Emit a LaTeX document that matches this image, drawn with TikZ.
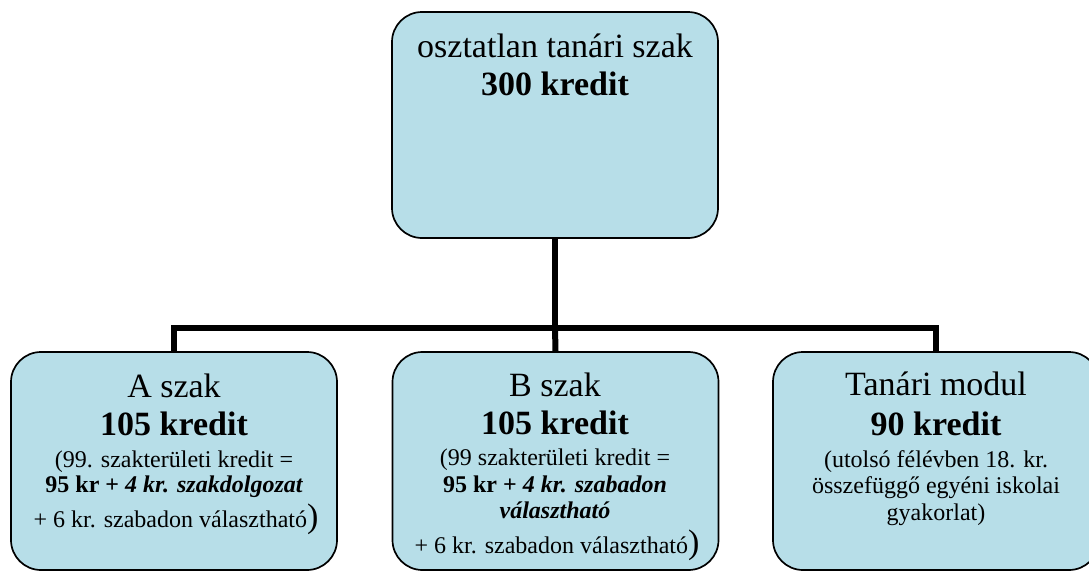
\documentclass[tikz,border=0pt]{standalone}
\usepackage{fontspec}
\setmainfont{Liberation Serif}
\definecolor{boxfill}{HTML}{B7DEE8}
\tikzset{
  boxnode/.style={draw=black, line width=1.7pt, fill=boxfill, rounded corners=30pt,
    minimum width=326pt, inner sep=0pt},
  conn/.style={draw=black, line width=6pt, line join=miter},
  big/.style={anchor=base, inner sep=0pt, font=\fontsize{34}{38}\selectfont},
  small/.style={anchor=base, inner sep=0pt, font=\fontsize{24}{27}\selectfont},
}
\begin{document}
\begin{tikzpicture}[x=1pt,y=-1pt]
\useasboundingbox (0,0) rectangle (1089,571);
% boxes
\node[boxnode, minimum height=226pt] (top) at (555,125) {};
\node[boxnode, minimum height=218pt] (A) at (174,461) {};
\node[boxnode, minimum height=218pt] (B) at (555.5,461) {};
\node[boxnode, minimum height=218pt] (C) at (936,461) {};
% connectors
\coordinate (bus) at (555,328);
\draw[conn] (top.south) -- (bus);
\draw[conn] (A.north) |- (bus) -| (C.north);
\draw[conn] (bus) -- (B.north);
% top text
\node[big] (t1) at (555,57) {osztatlan tanári szak};
\node[big] (t2) at (555,95) {\bfseries 300 kredit};
% A text
\node[big] (a1) at (174,397) {A szak};
\node[big] (a2) at (174,435) {\bfseries 105 kredit};
\node[small] (a3) at (174,467) {(99. szakterületi kredit =};
\node[small] (a4) at (174,492) {\bfseries 95 kr + \itshape 4 kr. szakdolgozat};
\node[small] (a5) at (176,527) {+ 6 kr. szabadon választható{\fontsize{34}{38}\selectfont)}};
% B text
\node[big] (b1) at (555,396) {B szak};
\node[big] (b2) at (555,434) {\bfseries 105 kredit};
\node[small] (b3) at (555,465) {(99 szakterületi kredit =};
\node[small] (b4) at (555,492) {\bfseries 95 kr + \itshape 4 kr. szabadon};
\node[small] (b5) at (555,518) {\bfseries\itshape választható};
\node[small] (b6) at (557,553) {+ 6 kr. szabadon választható{\fontsize{34}{38}\selectfont)}};
% C text
\node[big] (c1) at (936,395) {Tanári modul};
\node[big] (c2) at (936,435) {\bfseries 90 kredit};
\node[small] (c3) at (936,467) {(utolsó félévben 18. kr.};
\node[small] (c4) at (936,493) {összefüggő egyéni iskolai};
\node[small] (c5) at (936,520) {gyakorlat)};
\end{tikzpicture}
\end{document}
